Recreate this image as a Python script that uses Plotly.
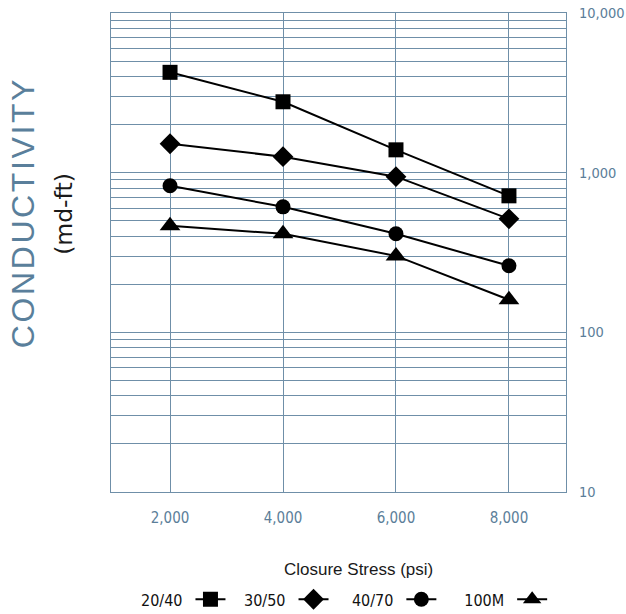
import plotly.graph_objects as go

stress = [2000, 4000, 6000, 8000]
x_tick_labels = ["2,000", "4,000", "6,000", "8,000"]
y_tick_vals = [10, 100, 1000, 10000]
y_tick_labels = ["10", "100", "1,000", "10,000"]

series_names = ["20/40", "30/50", "40/70", "100M"]
cond_2040 = [4250, 2780, 1390, 716]
cond_3050 = [1517, 1259, 944, 514]
cond_4070 = [828, 611, 414, 261]
cond_100m = [465, 414, 301, 160]
series_values = [cond_2040, cond_3050, cond_4070, cond_100m]
symbols = ["square", "diamond", "circle", "triangle-up"]
sizes = [15, 16, 15, 18]

GRID = "#6f8fa8"
TICK = "#5b7e99"
NARROW = "DejaVu Sans Condensed, Liberation Sans Narrow, sans-serif"

fig = go.Figure()
legend_x = [0.0615, 0.288, 0.525, 0.772]
for i, (name, vals, sym, sz) in enumerate(zip(series_names, series_values, symbols, sizes)):
    lg = "legend" if i == 0 else f"legend{i+1}"
    fig.add_trace(go.Scatter(
        x=stress, y=vals, mode="lines+markers", name="",
        line=dict(color="black", width=2),
        marker=dict(symbol=sym, size=sz, color="black"),
        legend=lg,
        hovertemplate=name + "<br>%{x:,}: %{y:,}<extra></extra>",
    ))

legend_common = dict(
    orientation="h", yanchor="middle", y=-0.226, xanchor="left",
    bgcolor="rgba(0,0,0,0)", font=dict(size=1, color="rgba(0,0,0,0)"),
    itemclick=False, itemdoubleclick=False,
)
layout_legends = {}
for i, name in enumerate(series_names):
    key = "legend" if i == 0 else f"legend{i+1}"
    layout_legends[key] = dict(
        legend_common, x=legend_x[i],
        title=dict(text=name, side="left", font=dict(family=NARROW, size=16, color="#111111")),
    )

fig.update_layout(
    width=626, height=614,
    margin=dict(l=111, r=60, t=13, b=122, autoexpand=False),
    paper_bgcolor="white", plot_bgcolor="white",
    showlegend=True,
    **layout_legends,
    xaxis=dict(
        range=[955, 9010], tickvals=stress, ticktext=x_tick_labels,
        showgrid=True, gridcolor=GRID, gridwidth=1,
        showline=True, linecolor=GRID, linewidth=1.2, mirror=True,
        ticks="", ticklabelstandoff=12, automargin=False,
        tickfont=dict(family=NARROW, size=15, color=TICK),
        zeroline=False,
    ),
    yaxis=dict(
        type="log", range=[1, 4], side="right",
        tickmode="array", tickvals=y_tick_vals, ticktext=y_tick_labels,
        showgrid=True, gridcolor=GRID, gridwidth=1,
        minor=dict(dtick="D1", showgrid=True, gridcolor=GRID, gridwidth=1, ticks=""),
        showline=True, linecolor=GRID, linewidth=1.2, mirror=True,
        ticks="", ticklabelstandoff=9, automargin=False,
        tickfont=dict(family=NARROW, size=14.5, color=TICK),
        zeroline=False,
    ),
    annotations=[
        dict(text="<span style='letter-spacing:2.6px'>CONDUCTIVITY</span>", textangle=-90,
             xref="paper", yref="paper",
             x=-0.194, y=0.5835, xanchor="center", yanchor="middle", showarrow=False,
             font=dict(family="Liberation Sans, Arial, sans-serif", size=32, color="#5a7f9b")),
        dict(text="(md-ft)", textangle=-90, xref="paper", yref="paper",
             x=-0.104, y=0.580, xanchor="center", yanchor="middle", showarrow=False,
             font=dict(family="DejaVu Sans, sans-serif", size=23.5, color="#1a1a1a")),
        dict(text="Closure Stress (psi)", xref="paper", yref="paper",
             x=0.543, y=-0.161, xanchor="center", yanchor="middle", showarrow=False,
             font=dict(family="Liberation Sans, Arial, sans-serif", size=17, color="#1a1a1a")),
    ],
)

fig.write_html("out.html", config={"displayModeBar": False},
               post_script="document.body.style.margin='0px';")
